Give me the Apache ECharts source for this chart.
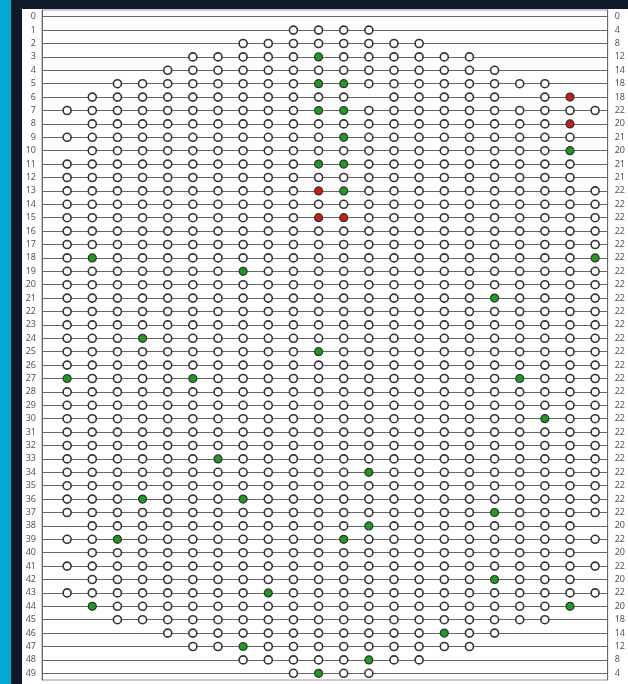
<!DOCTYPE html>
<html><head><meta charset="utf-8">
<script src="https://cdn.jsdelivr.net/npm/echarts@6/dist/echarts.min.js"></script>
<style>
html,body{margin:0;padding:0;background:#0e1a2a;width:628px;height:684px;overflow:hidden}
#strip{position:absolute;left:0;top:0;width:11px;height:684px;background:#03a9d1}
#chart{position:absolute;left:22px;top:9px;width:606px;height:675px;background:#fff}
</style></head>
<body><div id="strip"></div><div id="chart"></div>
<script>
// Row labels (left axis) and die counts (right axis)
const rowLabels = Array.from({length: 50}, (_, i) => String(i));
const rowCounts = [0,4,8,12,14,18,18,22,20,21,20,21,21,22,22,22,22,22,22,22,
  22,22,22,22,22,22,22,22,22,22,22,22,22,22,22,22,22,22,20,22,
  20,22,20,22,20,18,14,12,8,4];
// Die map: '.' no die, 'o' normal, 'g' green, 'r' red ; columns 0-10 | 11-21
const dieRows = [
  "........... ...........",
  ".........oo oo.........",
  ".......oooo oooo.......",
  ".....ooooog oooooo.....",
  "....ooooooo ooooooo....",
  "..oooooooog goooooooo..",
  ".oooooooooo o.ooooo.or.",
  "oooooooooog goooooooooo",
  ".oooooooooo ooooooooor.",
  "ooooooooooo gooooooooo.",
  ".oooooooooo ooooooooog.",
  "oooooooooog gooooooooo.",
  "ooooooooooo oooooooooo.",
  "oooooooooor goooooooooo",
  "ooooooooooo ooooooooooo",
  "oooooooooor roooooooooo",
  "ooooooooooo ooooooooooo",
  "ooooooooooo ooooooooooo",
  "ogooooooooo oooooooooog",
  "ooooooogooo ooooooooooo",
  "ooooooooooo ooooooooooo",
  "ooooooooooo oooooogoooo",
  "ooooooooooo ooooooooooo",
  "ooooooooooo ooooooooooo",
  "ooogooooooo ooooooooooo",
  "oooooooooog ooooooooooo",
  "ooooooooooo ooooooooooo",
  "goooogooooo ooooooogooo",
  "ooooooooooo ooooooooooo",
  "ooooooooooo ooooooooooo",
  "ooooooooooo oooooooogoo",
  "ooooooooooo ooooooooooo",
  "ooooooooooo ooooooooooo",
  "oooooogoooo ooooooooooo",
  "ooooooooooo ogooooooooo",
  "ooooooooooo ooooooooooo",
  "ooogooogooo ooooooooooo",
  "ooooooooooo oooooogoooo",
  ".oooooooooo ogoooooooo.",
  "oogoooooooo goooooooooo",
  ".oooooooooo oooooooooo.",
  "ooooooooooo ooooooooooo",
  ".oooooooooo oooooogooo.",
  "oooooooogoo ooooooooooo",
  ".gooooooooo ooooooooog.",
  "..ooooooooo ooooooooo..",
  "....ooooooo oooogoo....",
  ".....oogooo oooooo.....",
  ".......oooo ogoo.......",
  ".........og oo........."
];
const xMin = -1, xMax = 21.5;

const normal = [], green = [], red = [], rowLines = [];
dieRows.forEach((s, r) => {
  const t = s.replace(' ', '');
  for (let c = 0; c < t.length; c++) {
    const ch = t[c];
    if (ch === 'o') normal.push([c, r]);
    else if (ch === 'g') green.push([c, r]);
    else if (ch === 'r') red.push([c, r]);
  }
  rowLines.push({coords: [[xMin, r], [xMax, r]]});
});

const chart = echarts.init(document.getElementById('chart'), null, {renderer: 'canvas'});
const labelStyle = {fontSize: 9, color: '#555', fontFamily: 'Noto Sans'};
chart.setOption({
  animation: false,
  grid: {left: 20, right: 19, top: 1, bottom: 4, show: true, borderColor: '#999', borderWidth: 1},
  xAxis: {type: 'value', min: xMin, max: xMax, show: false},
  yAxis: [
    {type: 'category', data: rowLabels, inverse: true, position: 'left',
     axisLine: {onZero: false, lineStyle: {color: '#666'}},
     axisTick: {alignWithLabel: true, length: 4, lineStyle: {color: '#666'}},
     axisLabel: Object.assign({margin: 6, interval: 0}, labelStyle),
     splitLine: {show: false}},
    {type: 'category', data: rowLabels, inverse: true, position: 'right',
     axisLine: {onZero: false, lineStyle: {color: '#666'}},
     axisTick: {alignWithLabel: true, length: 4, lineStyle: {color: '#666'}},
     axisLabel: Object.assign({margin: 7, interval: 0, formatter: (v, i) => String(rowCounts[i])}, labelStyle),
     splitLine: {show: false}}
  ],
  series: [
    {type: 'lines', coordinateSystem: 'cartesian2d', data: rowLines, silent: true, z: 1,
     lineStyle: {color: '#666', width: 1, opacity: 1}},
    {type: 'scatter', data: normal, symbol: 'circle', symbolSize: 8, z: 3,
     itemStyle: {color: '#ffffff', borderColor: '#333', borderWidth: 1.6, opacity: 1}},
    {type: 'scatter', data: green, symbol: 'circle', symbolSize: 8, z: 3,
     itemStyle: {color: '#1f9a22', borderColor: '#333', borderWidth: 1.2, opacity: 1}},
    {type: 'scatter', data: red, symbol: 'circle', symbolSize: 8, z: 3,
     itemStyle: {color: '#cc1b1b', borderColor: '#333', borderWidth: 1.2, opacity: 1}}
  ]
});
</script>
</body></html>
